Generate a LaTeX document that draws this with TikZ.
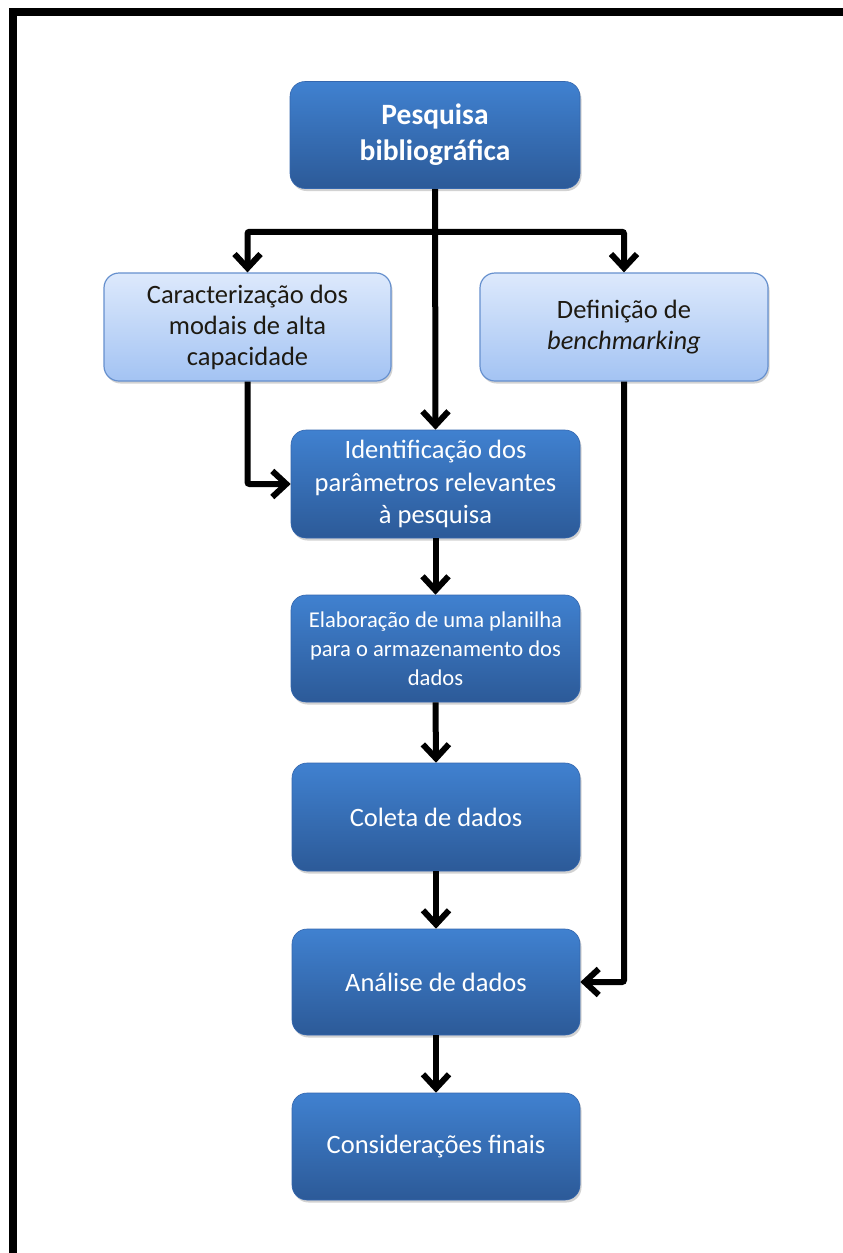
\documentclass[tikz,border=0pt]{standalone}
\usepackage{fontspec}
\setmainfont{Carlito}
\usetikzlibrary{arrows.meta,shadows,calc}
\definecolor{dkTop}{HTML}{4081D0}
\definecolor{dkBot}{HTML}{2C5A98}
\definecolor{dkLine}{HTML}{3567AE}
\definecolor{ltTop}{HTML}{DDE9FC}
\definecolor{ltBot}{HTML}{A3C3F3}
\definecolor{ltLine}{HTML}{6690CE}
\definecolor{ltText}{HTML}{1E1A12}
\tikzset{
  boxbase/.style={rectangle, rounded corners=15pt, align=center, inner sep=2pt,
    drop shadow={opacity=0.35, shadow xshift=1.5pt, shadow yshift=-2.5pt}},
  darkbox/.style={boxbase, top color=dkTop, bottom color=dkBot, draw=dkLine, line width=0.6pt,
    text=white, font=\fontsize{26.5}{32.5}\selectfont},
  lightbox/.style={boxbase, top color=ltTop, bottom color=ltBot, draw=ltLine, line width=1.2pt,
    text=ltText, font=\fontsize{26.5}{31}\selectfont},
  conn/.style={line width=6pt, draw=black, rounded corners=2pt,
    -{Straight Barb[length=14pt,width=26pt]}}
}
\begin{document}
\begin{tikzpicture}[x=1pt,y=-1pt]
\useasboundingbox (0,0) rectangle (843,1253);
\fill[white] (0,0) rectangle (843,1253);
% frame
\fill[black] (9,8) rectangle (843,16);
\fill[black] (9,8) rectangle (17,1253);

\node[darkbox, minimum width=290pt, minimum height=107pt,
  font=\bfseries\fontsize{29.5}{36}\selectfont] (pb) at (435,135) {Pesquisa\\bibliográfica};
\node[lightbox, minimum width=287pt, minimum height=108pt] (car) at (247.5,327)
  {Caracterização dos\\modais de alta\\capacidade};
\node[lightbox, minimum width=288pt, minimum height=108pt] (def) at (624,327)
  {Definição de\\\textit{benchmarking}};
\node[darkbox, minimum width=289pt, minimum height=108pt] (idp) at (435.5,484)
  {Identificação dos\\parâmetros relevantes\\à pesquisa};
\node[darkbox, minimum width=289pt, minimum height=107pt,
  font=\fontsize{22.6}{29}\selectfont] (ela) at (435.5,648.5)
  {Elaboração de uma planilha\\para o armazenamento dos\\dados};
\node[darkbox, minimum width=288pt, minimum height=108pt] (col) at (436,817) {Coleta de dados};
\node[darkbox, minimum width=288pt, minimum height=106pt] (ana) at (436,982) {Análise de dados};
\node[darkbox, minimum width=288pt, minimum height=107pt] (con) at (436,1146.5) {Considerações finais};

% connectors
\coordinate (j) at ($(pb.south)+(0,43)$);
\draw[conn] (pb.south) -- (idp.north);
\draw[conn] (j) -| (car.north);
\draw[conn] (j) -| (def.north);
\draw[conn] (car.south) |- (idp.west);
\draw[conn] (def.south) |- (ana.east);
\draw[conn] (idp.south) -- (ela.north);
\draw[conn] (ela.south) -- (col.north);
\draw[conn] (col.south) -- (ana.north);
\draw[conn] (ana.south) -- (con.north);
\end{tikzpicture}
\end{document}
